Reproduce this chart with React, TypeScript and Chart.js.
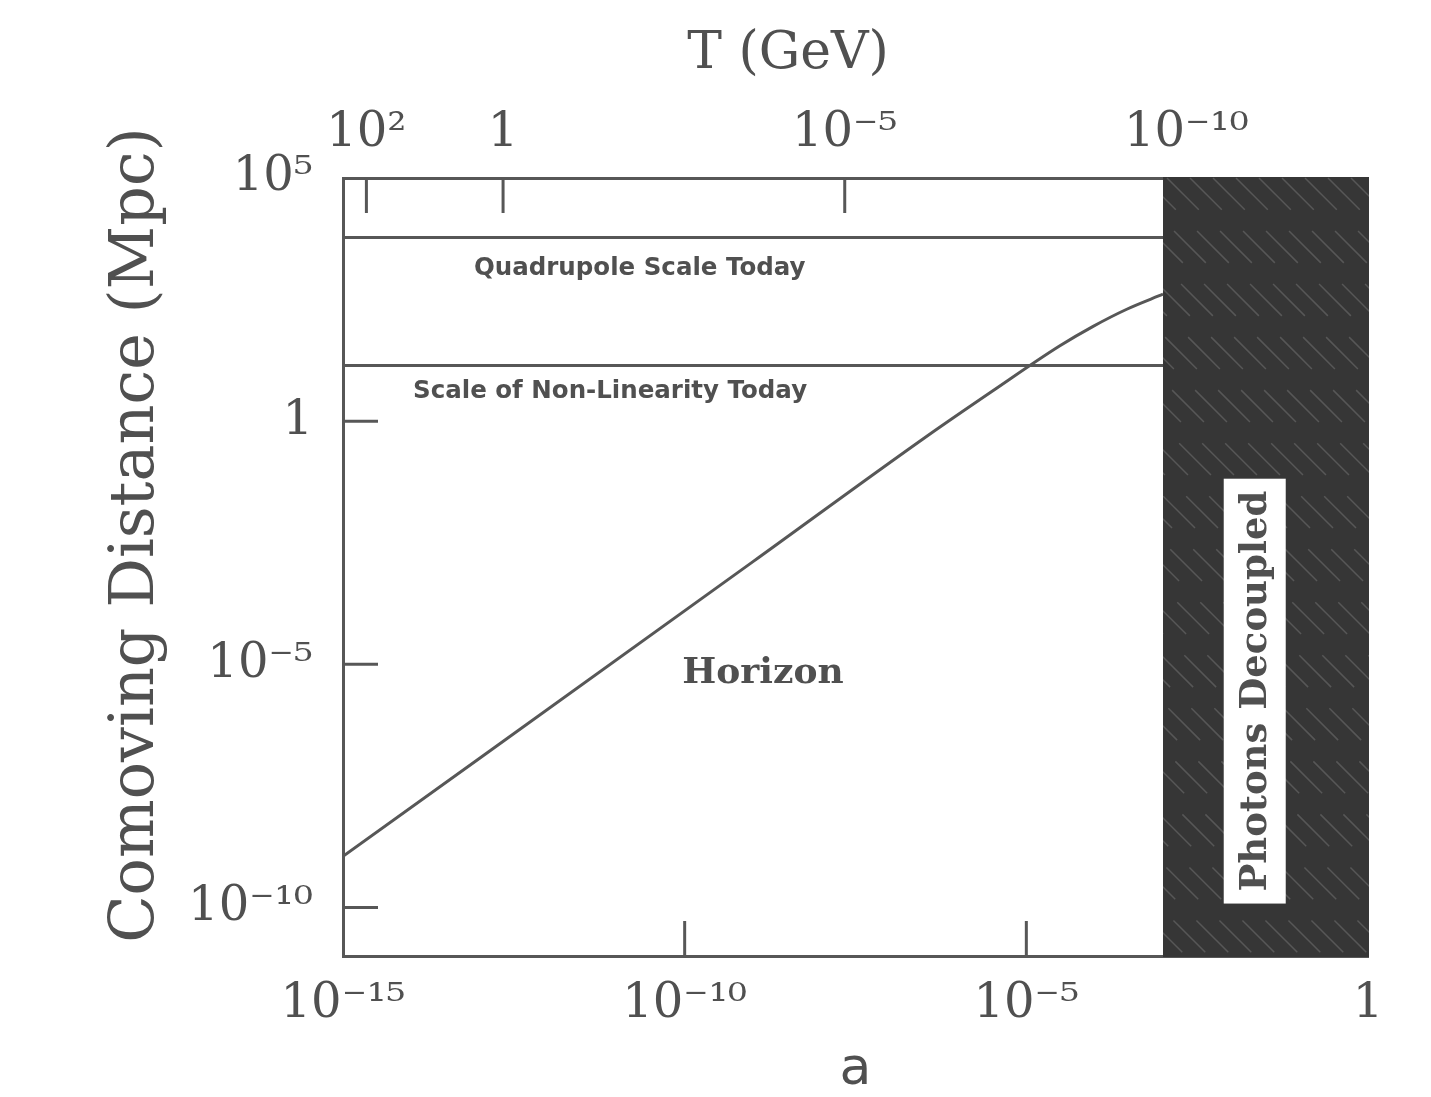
import React, { useEffect, useRef } from "react";
import { Chart, registerables } from "chart.js";

Chart.register(...registerables);

// Comoving horizon vs. scale factor a
const horizonScaleFactor = [1e-15, 1e-9, 3.5e-7, 3.2e-6, 3.1e-5, 9.5e-5, 2.95e-4, 1e-3];
const horizonDistance = [1.12e-9, 1.29e-3, 0.49, 4.17, 35.5, 89, 200, 407];

// Reference scales (Mpc), drawn from the earliest a up to decoupling
const referenceSpan = [1e-15, 1e-3];
const quadrupoleScale = 6000;
const nonLinearScale = 14;

// Photon decoupling
const decouplingA = 1e-3;

// Axis ranges
const aMin = 1e-15;
const aMax = 1;
const distMin = 1e-11;
const distMax = 1e5;
const tempToday = 2.2e-13; // GeV, T = tempToday / a

// Ticks
const aTicks = [1e-15, 1e-10, 1e-5, 1];
const aTickLabels = ["10⁻¹⁵", "10⁻¹⁰", "10⁻⁵", "1"];
const tTicks = [1e2, 1, 1e-5, 1e-10];
const tTickLabels = ["10²", "1", "10⁻⁵", "10⁻¹⁰"];
const distTicks = [1e5, 1, 1e-5, 1e-10];
const distTickLabels = ["10⁵", "1", "10⁻⁵", "10⁻¹⁰"];

// In-plot annotations: text, a, distance
const noteText = ["Quadrupole Scale Today", "Scale of Non-Linearity Today", "Horizon"];
const noteA = [2.2e-11, 8.1e-12, 1.4e-9];
const noteDist = [1350, 4.0, 6.3e-6];
const decoupledText = "Photons Decoupled";
const decoupledA = 0.022;
const decoupledDist = 2.8e-6;

const INK = "#575757";
const TEXT = "#505050";

function labelFor(ticks: number[], labels: string[]) {
  return (v: any) => {
    const lv = Math.log10(Number(v));
    const i = ticks.findIndex((t) => Math.abs(Math.log10(t) - lv) < 1e-6);
    return i >= 0 ? labels[i] : "";
  };
}

const decorPlugin = {
  id: "decor",
  beforeDatasetsDraw(chart: any) {
    const { ctx, chartArea } = chart;
    const xs = chart.scales.x;
    const x0 = xs.getPixelForValue(decouplingA);
    const { top, bottom, right } = chartArea;
    const w = right - x0;
    const h = bottom - top;
    ctx.save();
    ctx.beginPath();
    ctx.rect(x0, top - 1, w + 1, h + 2);
    ctx.clip();
    ctx.fillStyle = "#363636";
    ctx.fillRect(x0, top - 1, w + 1, h + 2);
    // faint diagonal hatching
    ctx.strokeStyle = "rgba(150,150,150,0.35)";
    ctx.lineWidth = 1.5;
    ctx.setLineDash([45, 30]);
    for (let k = -h; k < w; k += 23) {
      ctx.beginPath();
      ctx.moveTo(x0 + k, top);
      ctx.lineTo(x0 + k + h, bottom);
      ctx.stroke();
    }
    ctx.restore();
  },
  afterDatasetsDraw(chart: any) {
    const { ctx, chartArea } = chart;
    const xs = chart.scales.x;
    const ts = chart.scales.t;
    const ys = chart.scales.y;
    const xDec = xs.getPixelForValue(decouplingA);
    const L = 35;
    ctx.save();
    ctx.strokeStyle = INK;
    ctx.lineWidth = 3;
    ctx.setLineDash([]);
    // inward tick marks
    for (const t of xs.ticks) {
      const px = xs.getPixelForValue(t.value);
      if (px <= chartArea.left + 2 || px >= xDec) continue;
      ctx.beginPath();
      ctx.moveTo(px, chartArea.bottom);
      ctx.lineTo(px, chartArea.bottom - L);
      ctx.stroke();
    }
    for (const t of ts.ticks) {
      const px = ts.getPixelForValue(t.value);
      if (px <= chartArea.left + 2 || px >= xDec) continue;
      ctx.beginPath();
      ctx.moveTo(px, chartArea.top);
      ctx.lineTo(px, chartArea.top + L);
      ctx.stroke();
    }
    for (const t of ys.ticks) {
      const py = ys.getPixelForValue(t.value);
      if (py <= chartArea.top + 2 || py >= chartArea.bottom - 2) continue;
      ctx.beginPath();
      ctx.moveTo(chartArea.left, py);
      ctx.lineTo(chartArea.left + L, py);
      ctx.stroke();
    }

    // annotations
    ctx.fillStyle = TEXT;
    ctx.textAlign = "center";
    ctx.textBaseline = "middle";
    const fonts = ['bold 24.5px "DejaVu Sans"', 'bold 24.5px "DejaVu Sans"', 'bold 36px "DejaVu Serif"'];
    noteText.forEach((txt, i) => {
      ctx.font = fonts[i];
      ctx.fillText(txt, xs.getPixelForValue(noteA[i]), ys.getPixelForValue(noteDist[i]));
    });

    // decoupling label box
    const bx = xs.getPixelForValue(decoupledA);
    const by = ys.getPixelForValue(decoupledDist);
    ctx.font = 'bold 37px "DejaVu Serif"';
    const tw = ctx.measureText(decoupledText).width;
    const boxLen = tw + 24;
    const boxThick = 62;
    ctx.fillStyle = "#ffffff";
    ctx.fillRect(bx - boxThick / 2, by - boxLen / 2, boxThick, boxLen);
    ctx.translate(bx, by);
    ctx.rotate(-Math.PI / 2);
    ctx.fillStyle = TEXT;
    ctx.fillText(decoupledText, 0, 2);
    ctx.restore();

    // axis titles
    ctx.save();
    ctx.fillStyle = TEXT;
    ctx.textAlign = "center";
    ctx.textBaseline = "middle";
    ctx.font = '52px "DejaVu Serif"';
    ctx.fillText("T (GeV)", 788, 54);
    ctx.font = '52px "DejaVu Sans"';
    ctx.fillText("a", (chartArea.left + chartArea.right) / 2, 1070);
    ctx.translate(137, 535);
    ctx.rotate(-Math.PI / 2);
    ctx.font = '62px "DejaVu Serif"';
    ctx.fillText("Comoving Distance (Mpc)", 0, 0);
    ctx.restore();
  },
};

export default function App() {
  const ref = useRef<HTMLCanvasElement>(null);

  useEffect(() => {
    const canvas = ref.current;
    if (!canvas) return;
    const tickFont = { family: "DejaVu Serif", size: 48 };
    const chart = new Chart(canvas, {
      type: "line",
      data: {
        datasets: [
          {
            label: "Horizon",
            data: horizonScaleFactor.map((a, i) => ({ x: a, y: horizonDistance[i] })),
            borderColor: INK,
            borderWidth: 3,
            pointRadius: 0,
            cubicInterpolationMode: "monotone",
            xAxisID: "x",
            yAxisID: "y",
          },
          {
            label: "Quadrupole Scale Today",
            data: referenceSpan.map((a) => ({ x: a, y: quadrupoleScale })),
            borderColor: INK,
            borderWidth: 3,
            pointRadius: 0,
            xAxisID: "x",
            yAxisID: "y",
          },
          {
            label: "Scale of Non-Linearity Today",
            data: referenceSpan.map((a) => ({ x: a, y: nonLinearScale })),
            borderColor: INK,
            borderWidth: 3,
            pointRadius: 0,
            xAxisID: "x",
            yAxisID: "y",
          },
        ],
      },
      options: {
        responsive: false,
        animation: false,
        layout: { padding: { left: 0, right: 63, top: 0, bottom: 0 } },
        plugins: { legend: { display: false }, tooltip: { enabled: false } },
        scales: {
          x: {
            type: "logarithmic",
            position: "bottom",
            min: aMin,
            max: aMax,
            afterFit: (s: any) => {
              s.height = 141;
            },
            afterBuildTicks: (s: any) => {
              s.ticks = aTicks.map((v) => ({ value: v }));
            },
            ticks: {
              callback: labelFor(aTicks, aTickLabels),
              autoSkip: false,
              maxRotation: 0,
              padding: 20,
              font: tickFont,
              color: TEXT,
            },
            grid: { display: false, drawTicks: false },
            border: { display: true, color: INK, width: 3 },
          },
          t: {
            type: "logarithmic",
            position: "top",
            reverse: true,
            min: tempToday / aMax,
            max: tempToday / aMin,
            afterFit: (s: any) => {
              s.height = 178;
            },
            afterBuildTicks: (s: any) => {
              s.ticks = tTicks.map((v) => ({ value: v }));
            },
            ticks: {
              callback: labelFor(tTicks, tTickLabels),
              autoSkip: false,
              maxRotation: 0,
              padding: 16,
              font: tickFont,
              color: TEXT,
            },
            grid: { display: false, drawTicks: false },
            border: { display: true, color: INK, width: 3 },
          },
          y: {
            type: "logarithmic",
            position: "left",
            min: distMin,
            max: distMax,
            afterFit: (s: any) => {
              s.width = 343;
            },
            afterBuildTicks: (s: any) => {
              s.ticks = distTicks.map((v) => ({ value: v }));
            },
            ticks: {
              callback: labelFor(distTicks, distTickLabels),
              autoSkip: false,
              padding: 30,
              font: tickFont,
              color: TEXT,
            },
            grid: { display: false, drawTicks: false },
            border: { display: true, color: INK, width: 3 },
          },
        },
      },
      plugins: [decorPlugin],
    } as any);
    return () => chart.destroy();
  }, []);

  return (
    <div style={{ position: "absolute", left: 0, top: 0, width: 1431, height: 1097, background: "#fff" }}>
      <canvas ref={ref} width={1431} height={1097} style={{ display: "block" }} />
    </div>
  );
}
